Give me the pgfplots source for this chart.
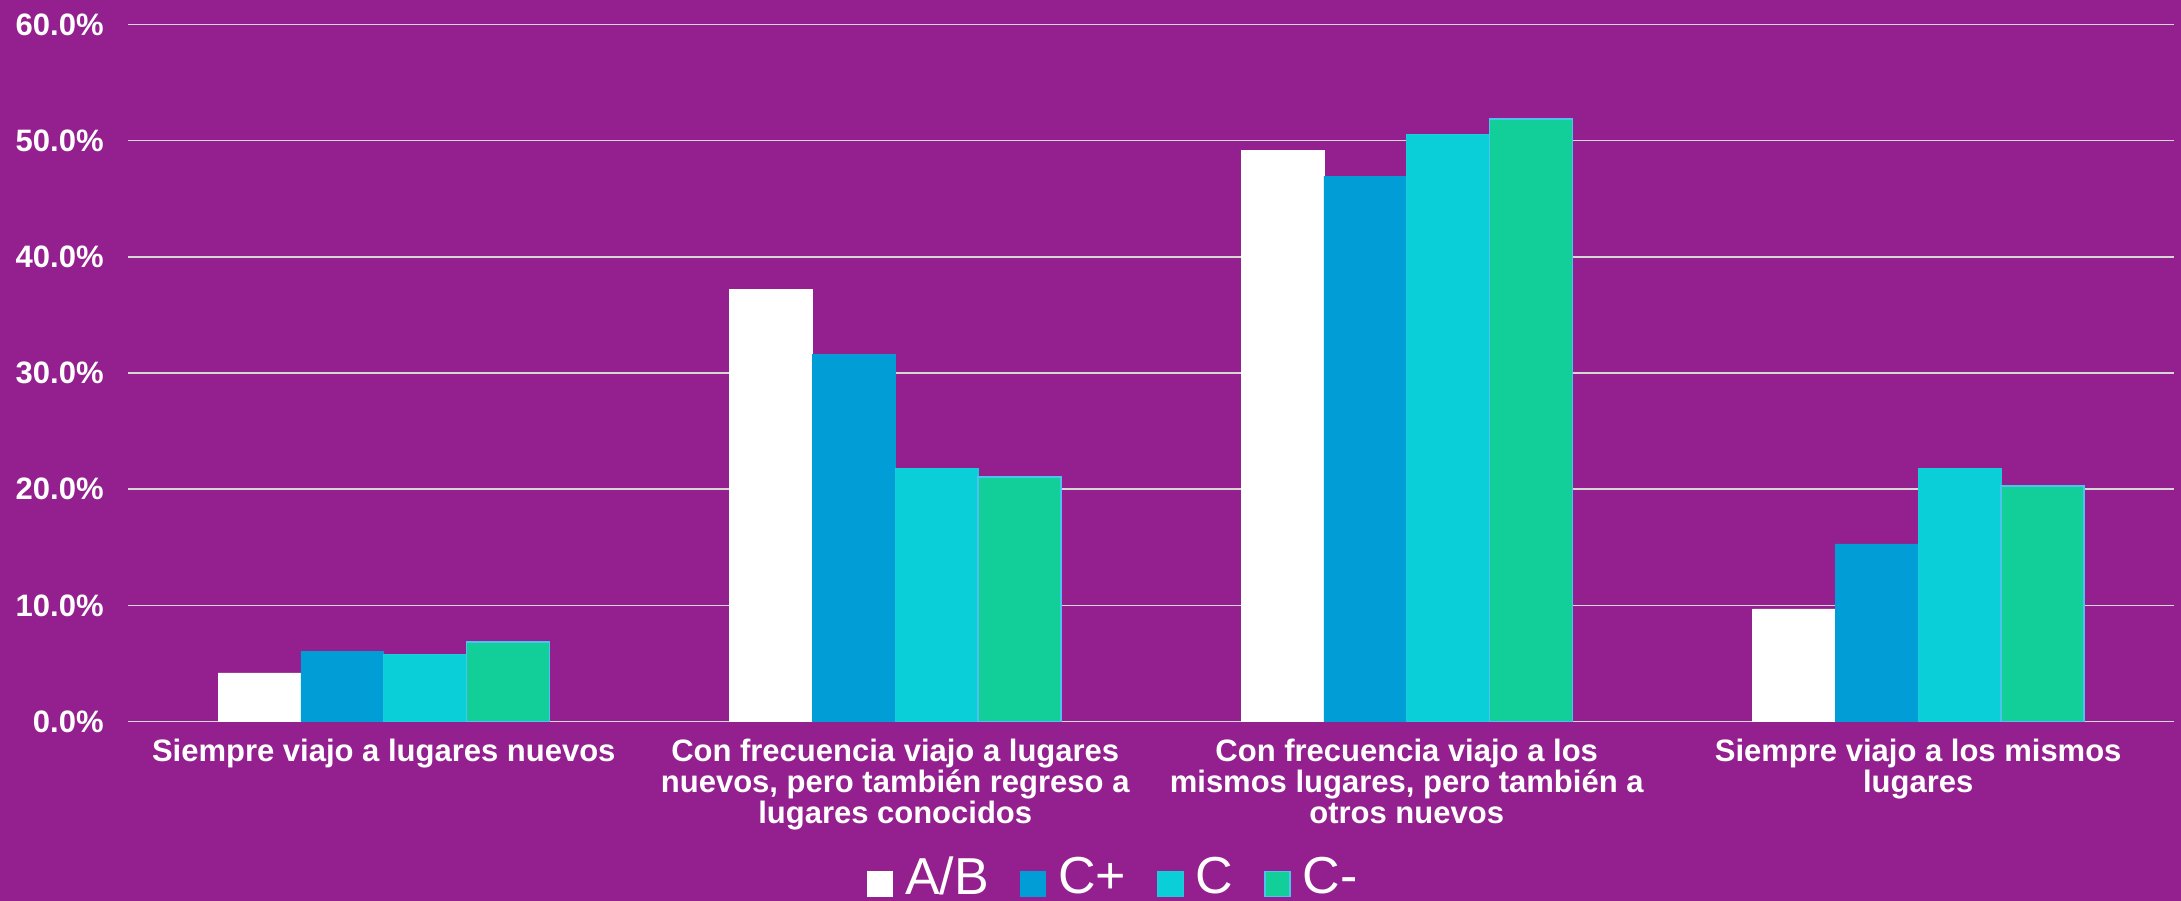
\documentclass[border=0pt]{standalone}
\usepackage{fontspec}
\setmainfont{Liberation Sans}
\usepackage{pgfplots}
\pgfplotsset{compat=1.18}
\definecolor{bg}{HTML}{94208F}
\definecolor{cab}{HTML}{FFFFFF}
\definecolor{ccp}{HTML}{009DD7}
\definecolor{cc}{HTML}{0BCFD8}
\definecolor{ccm}{HTML}{12CF9A}
\definecolor{cedge}{HTML}{4CC3EE}
\definecolor{gridc}{HTML}{D6D6D6}
\begin{document}
\begin{tikzpicture}
\fill[bg] (0,0) rectangle (1090.5bp,450.5bp);
\begin{axis}[
  at={(64bp,89.75bp)}, anchor=south west,
  scale only axis, width=1023bp, height=348.5bp,
  xmin=-0.5, xmax=3.5, ymin=0, ymax=60,
  ybar=0pt, bar width=41.4bp,
  axis line style={draw=none},
  major tick length=0pt,
  ymajorgrids, major grid style={gridc, line width=0.8bp},
  ytick={0,10,20,30,40,50,60},
  yticklabels={0.0\%,10.0\%,20.0\%,30.0\%,40.0\%,50.0\%,60.0\%},
  yticklabel style={font=\bfseries\fontsize{15.5bp}{15.5bp}\selectfont, text=white, anchor=east, inner sep=0pt, xshift=-12bp},
  xtick={0,1,2,3},
  xticklabels={{Siempre viajo a lugares nuevos},
    {Con frecuencia viajo a lugares\\nuevos, pero también regreso a\\lugares conocidos},
    {Con frecuencia viajo a los\\mismos lugares, pero también a\\otros nuevos},
    {Siempre viajo a los mismos\\lugares}},
  xticklabel style={font=\bfseries\fontsize{15.5bp}{15.5bp}\selectfont, text=white, align=center, anchor=north, inner sep=0pt, yshift=-8.8bp},
  legend columns=4,
  legend style={at={(0.481,-0.2525)}, anchor=south, draw=none, fill=none,
    inner sep=0pt, outer sep=0pt, text=white,
    font=\fontsize{26bp}{26bp}\selectfont,
    nodes={inner sep=0pt, outer sep=0pt},
    /tikz/every odd column/.append style={column sep=6bp},
    /tikz/every even column/.append style={column sep=15.5bp}},
  sq/.style={legend image code/.code={\draw[##1, line width=0.7bp] (0bp,-10bp) rectangle (12.5bp,2.5bp);}},
]
\addplot[fill=cab, draw=cab, line width=0.3bp, sq] coordinates {(0,4.18) (1,37.18) (2,49.17) (3,9.69)};
\addplot[fill=ccp, draw=ccp, line width=0.3bp, sq] coordinates {(0,6.02) (1,31.6) (2,46.94) (3,15.28)};
\addplot[fill=cc, draw=cc!85!cedge, line width=0.6bp, sq] coordinates {(0,5.76) (1,21.8) (2,50.52) (3,21.75)};
\addplot[fill=ccm, draw=cedge, line width=0.8bp, sq] coordinates {(0,6.83) (1,21.05) (2,51.84) (3,20.27)};
\legend{A/B, C+, C, C-}
\end{axis}
\pgfresetboundingbox
\useasboundingbox (0,0) rectangle (1090.5bp,450.5bp);
\end{tikzpicture}
\end{document}
